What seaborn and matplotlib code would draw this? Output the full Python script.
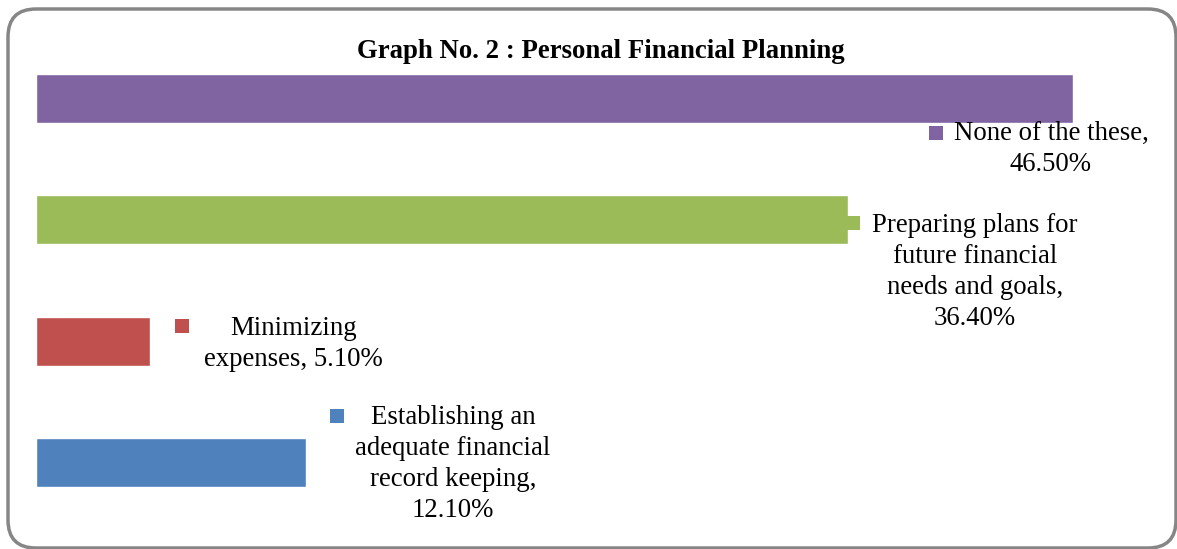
import matplotlib
matplotlib.use("Agg")
import matplotlib.pyplot as plt
import matplotlib.transforms as mtransforms
from matplotlib.patches import FancyBboxPatch
import seaborn as sns
import pandas as pd

# ---- data (top to bottom) ----
categories = ["None of the these",
              "Preparing plans for future financial needs and goals",
              "Minimizing expenses",
              "Establishing an adequate financial record keeping"]
values = [46.5, 36.4, 5.1, 12.1]
label_texts = ["None of the these,\n46.50%",
               "Preparing plans for\nfuture financial\nneeds and goals,\n36.40%",
               "Minimizing\nexpenses, 5.10%",
               "Establishing an\nadequate financial\nrecord keeping,\n12.10%"]
colors = ["#8064A2", "#9BBB59", "#C0504D", "#4F81BD"]
title = "Graph No. 2 : Personal Financial Planning"

# label placement offsets (pixels relative to bar end, +dy = downward)
marker_off = [(-137, 34), (5, 3.5), (32, -15.5), (31, -46.5)]
text_off = [(-22, 50), (127, 52.5), (144, 2.5), (147, 2)]

sns.set_theme(style="white")
plt.rcParams['font.family'] = ['Liberation Serif', 'DejaVu Serif']

W, H = 1177, 549
fig = plt.figure(figsize=(W / 100, H / 100), dpi=100)
ax = fig.add_axes([36 / W, 1 - 523 / H, (1151 - 36) / W, (523 - 38) / H])

df = pd.DataFrame({"cat": categories, "val": values})
sns.barplot(data=df, y="cat", x="val", hue="cat", palette=colors, order=categories,
            orient="h", width=0.405, legend=False, ax=ax, saturation=1)

ax.set_xlim(0, 50)
ax.set_ylim(3.5, -0.5)
ax.set_axis_off()

for i, (v, txt, c) in enumerate(zip(values, label_texts, colors)):
    mdx, mdy = marker_off[i]
    tr = ax.transData + mtransforms.ScaledTranslation(mdx / 100, -mdy / 100, fig.dpi_scale_trans)
    ax.plot([v], [i], marker="s", markersize=10.0, markeredgewidth=0, color=c,
            transform=tr, clip_on=False, linestyle="none")
    tdx, tdy = text_off[i]
    ax.annotate(txt, xy=(v, i), xytext=(tdx, -tdy), textcoords="offset pixels",
                ha="center", va="center", multialignment="center",
                fontsize=19.3, color="black", linespacing=1.32, annotation_clip=False)

fig.text(601 / W, 1 - 52 / H, title, ha="center", va="center",
         fontsize=19.3, fontweight="bold", color="black")

# rounded chart border
border = FancyBboxPatch((8, 1), 1168, 539, boxstyle="round,pad=0,rounding_size=28",
                        transform=None, facecolor="none", edgecolor="#868686", linewidth=2.5)
fig.patches.append(border)

fig.savefig("out.png", dpi=100)
